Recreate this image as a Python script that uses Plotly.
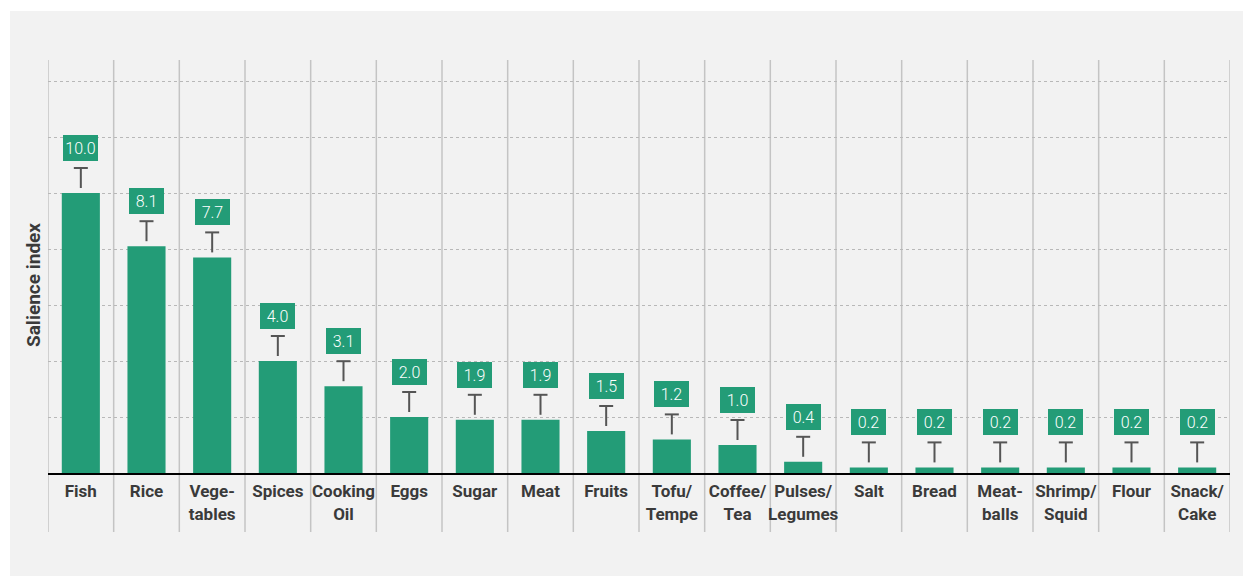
import plotly.graph_objects as go

categories = ["Fish", "Rice", "Vege-<br>tables", "Spices", "Cooking<br>Oil", "Eggs",
              "Sugar", "Meat", "Fruits", "Tofu/<br>Tempe", "Coffee/<br>Tea",
              "Pulses/<br>Legumes", "Salt", "Bread", "Meat-<br>balls",
              "Shrimp/<br>Squid", "Flour", "Snack/<br>Cake"]
salience = [10.0, 8.1, 7.7, 4.0, 3.1, 2.0, 1.9, 1.9, 1.5, 1.2, 1.0, 0.4,
            0.2, 0.2, 0.2, 0.2, 0.2, 0.2]

GREEN = "#239c77"
TEXT = "#3a3a3a"
PANEL = "#f2f2f2"
FONT = "Roboto, Open Sans, sans-serif"

# body margin is removed below, so the figure fills the window from (0, 0)
W, H = 1243, 576
L, T = 48, 60
pw, ph = 1182, 413
R, B = W - L - pw, H - T - ph

def px_x(sx):
    return (sx - L) / pw

def px_y(sy):
    return (T + ph - sy) / ph

idx = list(range(len(categories)))
y_max = 14.75
unit = ph / y_max  # px per unit
gap = 5 / unit
stem = 20 / unit

bars = go.Bar(x=idx, y=salience, marker=dict(color=GREEN, line=dict(width=0)),
              width=0.58, hoverinfo="y", showlegend=False)

stems = go.Scatter(
    x=idx, y=[v + gap for v in salience], mode="markers",
    marker=dict(color="rgba(0,0,0,0)", size=1),
    error_y=dict(type="data", symmetric=False, array=[stem] * len(idx),
                 arrayminus=[0] * len(idx), color="#555555", thickness=2, width=0),
    hoverinfo="skip", showlegend=False)

caps = go.Scatter(
    x=idx, y=[v + gap + stem for v in salience], mode="markers",
    marker=dict(symbol="line-ew-open", size=10, color="#555555",
                line=dict(color="#555555", width=2)),
    hoverinfo="skip", showlegend=False)

fig = go.Figure([bars, stems, caps])

shapes = [
    dict(type="rect", xref="paper", yref="paper", layer="below",
         x0=px_x(-5), x1=px_x(10), y0=px_y(600), y1=px_y(-5),
         fillcolor="white", line=dict(width=0)),
    dict(type="rect", xref="paper", yref="paper", layer="below",
         x0=px_x(-5), x1=px_x(1260), y0=px_y(11), y1=px_y(-5),
         fillcolor="white", line=dict(width=0)),
]
for i in range(len(idx) + 1):
    shapes.append(dict(type="line", xref="x", yref="paper", layer="below",
                       x0=i - 0.5, x1=i - 0.5, y0=px_y(532), y1=1,
                       line=dict(color="#c4c4c4", width=1.5)))

annotations = []
for i, v in zip(idx, salience):
    annotations.append(dict(
        x=i, y=v, xref="x", yref="y", text=f"{v:.1f}", showarrow=False,
        yanchor="bottom", yshift=32, width=33, height=24, borderpad=1,
        borderwidth=0, bgcolor=GREEN,
        font=dict(family=FONT, size=16, color="white", weight=300)))
annotations.append(dict(
    x=px_x(33), y=px_y(285), xref="paper", yref="paper", text="Salience index",
    textangle=-90, showarrow=False, xanchor="center", yanchor="middle",
    font=dict(family=FONT, size=19, color=TEXT, weight=700)))

fig.update_layout(
    width=W, height=H,
    margin=dict(l=L, r=R, t=T, b=B),
    paper_bgcolor=PANEL, plot_bgcolor="rgba(0,0,0,0)",
    shapes=shapes, annotations=annotations,
    xaxis=dict(range=[-0.5, len(idx) - 0.5], tickvals=idx, ticktext=categories,
               tickangle=0, showgrid=False, zeroline=False, showline=True,
               linecolor="black", linewidth=2, ticks="", ticklabelstandoff=2,
               tickfont=dict(family=FONT, size=17, color=TEXT, weight=700)),
    yaxis=dict(range=[0, y_max], dtick=2, showticklabels=False, zeroline=False,
               showgrid=True, gridcolor="#b8b8b8", griddash="dot", gridwidth=1,
               showline=False),
)

fig.write_html("out.html", config={"displayModeBar": False},
               post_script="document.body.style.margin='0';document.body.style.overflow='hidden';")
